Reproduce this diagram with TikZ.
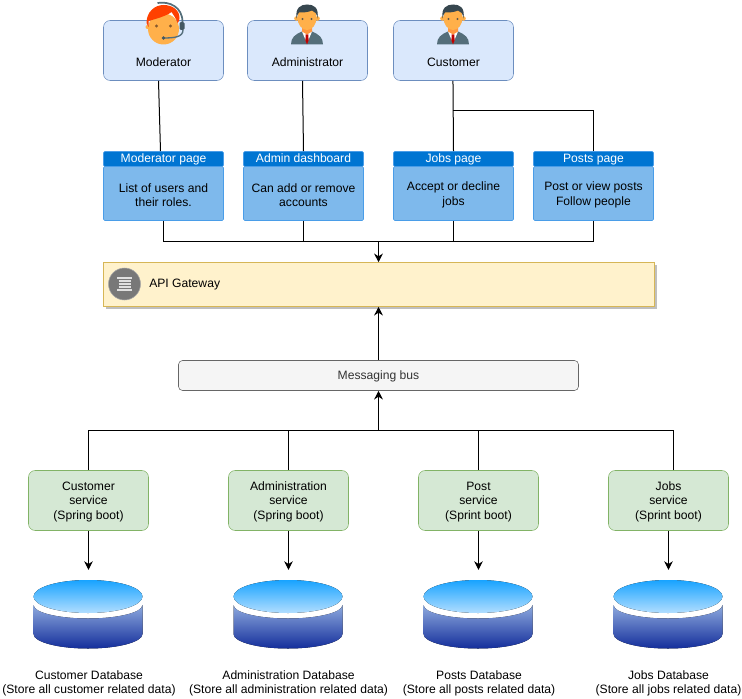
\documentclass[tikz,border=0pt]{standalone}
\usepackage{fontspec}
\setmainfont{Liberation Sans}
\usetikzlibrary{calc,arrows.meta,shadows}

\definecolor{userfill}{HTML}{DAE8FC}
\definecolor{userline}{HTML}{6C8EBF}
\definecolor{pagefill}{HTML}{7EB9EC}
\definecolor{pageline}{HTML}{4A9DE8}
\definecolor{pagehead}{HTML}{0075D2}
\definecolor{gatefill}{HTML}{FFF2CC}
\definecolor{gateline}{HTML}{D6B656}
\definecolor{busfill}{HTML}{F5F5F5}
\definecolor{busline}{HTML}{666666}
\definecolor{servfill}{HTML}{D5E8D4}
\definecolor{servline}{HTML}{82B366}
\definecolor{skin}{HTML}{FFB04A}
\definecolor{suit}{HTML}{546E7A}
\definecolor{hairdark}{HTML}{37474F}

\tikzset{
    textfont/.style = {font=\fontsize{9.1}{10.9}\selectfont, align=center},
    raised/.style = {execute at begin node={\rule{0pt}{#1}}},
    userbox/.style = {draw=userline, fill=userfill, rounded corners=5pt, minimum width=90pt, minimum height=45pt},
    usertext/.style = {textfont, raised=8.3pt, inner sep=0pt},
    pagebox/.style = {draw=pageline, fill=pagefill, rounded corners=1pt, textfont, raised=19.9pt, minimum width=90pt, minimum height=40.5pt, inner sep=0pt},
    pagetitle/.style = {draw=pageline, fill=pagehead, text=white, rounded corners=1pt, textfont, text height=6.6pt, text depth=1.9pt, minimum width=90pt, minimum height=11.25pt, inner sep=0pt},
    gatebox/.style = {draw=gateline, fill=gatefill, minimum width=413pt, minimum height=33pt,
                      drop shadow={shadow xshift=1.8pt, shadow yshift=-2.2pt, opacity=1, fill=black!25}},
    busbox/.style = {draw=busline, fill=busfill, text=black!80, rounded corners=3pt, textfont, raised=8.3pt, minimum width=300pt, minimum height=22.5pt},
    servbox/.style = {draw=servline, fill=servfill, rounded corners=5pt, textfont, raised=30.1pt, minimum width=90pt, minimum height=45pt, inner sep=0pt},
    dbtext/.style = {textfont, raised=20.7pt, inner sep=0pt},
    link/.style = {draw=black, line width=.75pt},
    linkto/.style = {link, -{Stealth[length=6.5pt,width=6.5pt]}},
    % one database drum, drawn round its centre
    dbicon/.pic = {
        \node [minimum width=82pt, minimum height=51.5pt, inner sep=0pt] (-shape) at (0,0) {};
        \fill [top color={rgb,255:red,142;green,170;blue,222}, bottom color={rgb,255:red,20;green,46;blue,155}]
            (-54.5,-9.5) .. controls (-54.5,-2) and (-30,4) .. (0,4)
            .. controls (30,4) and (54.5,-2) .. (54.5,-9.5)
            -- (54.5,19.5) .. controls (54.5,27.5) and (30,34) .. (0,34)
            .. controls (-30,34) and (-54.5,27.5) .. (-54.5,19.5) -- cycle;
        \fill [top color={rgb,255:red,24;green,163;blue,255}, bottom color={rgb,255:red,178;green,222;blue,255}]
            (0,-18) ellipse [x radius=54.5, y radius=16.5];
    },
    % man with the red tie, origin at the top of his head
    manicon/.pic = {
        \fill [suit] (-16,40) .. controls (-16,33) and (-12,30) .. (-5,27) -- (5,27)
            .. controls (12,30) and (16,33) .. (16,40) -- cycle;
        \fill [white] (-5,27) -- (5,27) -- (0,39) -- cycle;
        \fill [red!75!black] (-1.3,30) -- (1.3,30) -- (1.6,36) -- (0,40) -- (-1.6,36) -- cycle;
        \fill [skin!85!red] (-5,20) -- (5,20) -- (5,27) -- (0,30) -- (-5,27) -- cycle;
        \fill [skin] (-10.5,14) circle (2.3) (10.5,14) circle (2.3);
        \fill [skin] (0,13) ellipse [x radius=9.5, y radius=12.5];
        \fill [hairdark] (-10.5,14) .. controls (-12,3) and (-6,0) .. (0,0)
            .. controls (7,0) and (12,3) .. (10.5,14)
            .. controls (10,9) and (8,7) .. (5,6) .. controls (1,8) and (-5,8) .. (-8,8)
            .. controls (-9,9) and (-10,11) .. (-10.5,14) -- cycle;
        \fill [hairdark!70!brown] (-4.5,14.5) circle (1.1) (4.5,14.5) circle (1.1);
    },
    % moderator with the headset, origin at the middle of her chin line
    headicon/.pic = {
        \fill [skin] (-16,-3) circle (2);
        \fill [skin] (0,-1) ellipse [x radius=15.5, y radius=15.5];
        \fill [orange!50!red] (-17,-7) .. controls (-17,-18) and (-9,-25) .. (0,-25)
            .. controls (9,-25) and (16,-20) .. (16,-12)
            .. controls (16,-9) and (15,-8) .. (14,-7)
            .. controls (13,-11) and (10,-15) .. (8,-18)
            .. controls (3,-14) and (-8,-11) .. (-15,-9)
            -- (-15,-3) -- cycle;
        \draw [suit, line width=1.3pt] (-6,-27) .. controls (6,-29) and (19,-23) .. (19,-8);
        \fill [suit!80!black, rounded corners=1pt] (16,-8) rectangle (21,0);
        \draw [suit, line width=1pt] (19.5,0) .. controls (19.5,7) and (11,8) .. (0,8);
        \fill [suit!80!black] (0,8) circle (1.8);
        \fill [brown!70!black] (-7,-4) circle (1.7) (7,-4) circle (1.7);
    },
}

\begin{document}
\begin{tikzpicture}[x=.75pt, y=-.75pt]
    \useasboundingbox (-.5,-.5) rectangle (741.5,698.5);

    % users
    \node [userbox] (moderator) at (163,50) {};
    \node [userbox] (administrator) at (307,50) {};
    \node [userbox] (customer) at (453,50) {};
    \pic at (163,29.5) {headicon};
    \pic at (306.5,4) {manicon};
    \pic at (452.5,4) {manicon};
    \node [usertext] (moderatortext) at (163,60.5) {Moderator};
    \node [usertext] (administratortext) at (307,60.5) {Administrator};
    \node [usertext] (customertext) at (453,60.5) {Customer};

    % pages
    \node [pagebox] (moderatorpage) at (163,193) {List of users and\\their roles.};
    \node [pagebox] (adminpage) at (303,193) {Can add or remove\\accounts};
    \node [pagebox] (jobspage) at (453,193) {Accept or decline\\jobs};
    \node [pagebox] (postspage) at (593,193) {Post or view posts\\Follow people};
    \node [pagetitle] (moderatortitle) at (163,158.5) {Moderator page};
    \node [pagetitle] (admintitle) at (303,158.5) {Admin dashboard};
    \node [pagetitle] (jobstitle) at (453,158.5) {Jobs page};
    \node [pagetitle] (poststitle) at (593,158.5) {Posts page};

    % gateway and bus
    \node [gatebox] (gateway) at (378.5,284) {};
    \node [circle, fill=black!53, draw=black!35, minimum size=24pt, inner sep=0pt] (gatewayicon) at (124,283.5) {};
    \foreach \rowy/\rowx in {277.5/7.5, 280.5/6, 283.5/6, 286.5/6, 289.5/7.5}
        \draw [black!12, line width=1pt] (124-\rowx,\rowy) -- (124+\rowx,\rowy);
    \node [usertext, anchor=west] (gatewaytext) at (148.5,283) {API Gateway};
    \node [busbox] (bus) at (378,375) {Messaging bus};

    % services
    \node [servbox] (customerservice) at (88,500) {Customer\\service\\(Spring boot)};
    \node [servbox] (adminservice) at (288,500) {Administration\\service\\(Spring boot)};
    \node [servbox] (postservice) at (478,500) {Post\\service\\(Sprint boot)};
    \node [servbox] (jobsservice) at (668,500) {Jobs\\service\\(Sprint boot)};

    % databases
    \pic (customerdb) at (87.5,614) {dbicon};
    \pic (admindb) at (287.5,614) {dbicon};
    \pic (postsdb) at (477.5,614) {dbicon};
    \pic (jobsdb) at (667.5,614) {dbicon};
    \node [dbtext] (customerdbtext) at (88.5,680.5) {Customer Database\\(Store all customer related data)};
    \node [dbtext] (admindbtext) at (288,680.5) {Administration Database\\(Store all administration related data)};
    \node [dbtext] (postsdbtext) at (478.5,680.5) {Posts Database\\(Store all posts related data)};
    \node [dbtext] (jobsdbtext) at (668,680.5) {Jobs Database\\(Store all jobs related data)};

    \coordinate (gatewayjoin) at (378,241);
    \coordinate (busjoin) at (378,430);
    \coordinate (customerjoin) at (452.5,110);

    % users to pages
    \draw [link] ([xshift=-3.75pt]moderator.south) -- ([xshift=-2.25pt]moderatortitle.north);
    \draw [link] ([xshift=-3.75pt]administrator.south) -- (admintitle.north);
    \draw [link] ([xshift=-.4pt]customer.south) -- (jobstitle.north);
    \draw [link] (customerjoin) -| (poststitle.north);

    % pages to gateway
    \draw [link] (moderatorpage.south) |- (gatewayjoin);
    \draw [link] (adminpage.south) |- (gatewayjoin);
    \draw [link] (jobspage.south) |- (gatewayjoin);
    \draw [link] (postspage.south) |- (gatewayjoin);
    \draw [linkto] (gatewayjoin) -- (gatewayjoin |- gateway.north);

    % services up to the bus
    \draw [linkto] (bus.north) -- (bus.north |- gateway.south);
    \draw [link] (customerservice.north) |- (busjoin);
    \draw [link] (adminservice.north) |- (busjoin);
    \draw [link] (postservice.north) |- (busjoin);
    \draw [link] ([xshift=3.75pt]jobsservice.north) |- (busjoin);
    \draw [linkto] (busjoin) -- (bus.south);

    % services down to the databases
    \draw [linkto, shorten >=7.5pt] (customerservice.south) -- (customerservice.south |- customerdb-shape.north);
    \draw [linkto, shorten >=7.5pt] (adminservice.south) -- (adminservice.south |- admindb-shape.north);
    \draw [linkto, shorten >=7.5pt] (postservice.south) -- (postservice.south |- postsdb-shape.north);
    \draw [linkto, shorten >=7.5pt] (jobsservice.south) -- (jobsservice.south |- jobsdb-shape.north);
\end{tikzpicture}
\end{document}
